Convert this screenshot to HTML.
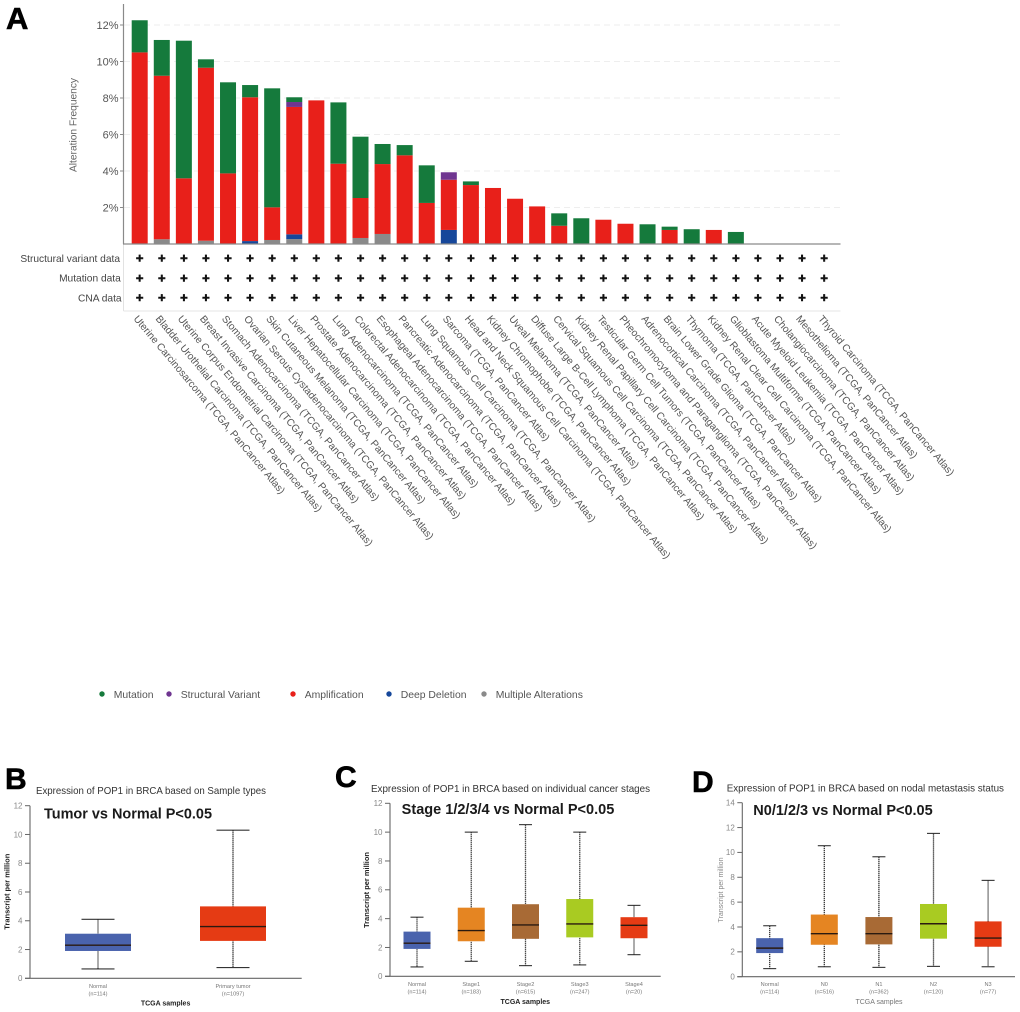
<!DOCTYPE html>
<html lang="en">
<head>
<meta charset="utf-8">
<title>POP1 alteration frequency and expression in BRCA</title>
<style>
html,body{margin:0;padding:0;background:#fff;width:1020px;height:1012px;overflow:hidden}
svg{display:block;font-family:"Liberation Sans",Arial,sans-serif;filter:blur(0.3px)}
</style>
</head>
<body>
<svg id="figure" width="1020" height="1012" viewBox="0 0 1020 1012" xmlns="http://www.w3.org/2000/svg"></svg>
<script>
// ---------- Panel A data ----------
const cancerTypes = ["Uterine Carcinosarcoma","Bladder Urothelial Carcinoma","Uterine Corpus Endometrial Carcinoma","Breast Invasive Carcinoma","Stomach Adenocarcinoma","Ovarian Serous Cystadenocarcinoma","Skin Cutaneous Melanoma","Liver Hepatocellular Carcinoma","Prostate Adenocarcinoma","Lung Adenocarcinoma","Colorectal Adenocarcinoma","Esophageal Adenocarcinoma","Pancreatic Adenocarcinoma","Lung Squamous Cell Carcinoma","Sarcoma","Head and Neck Squamous Cell Carcinoma","Kidney Chromophobe","Uveal Melanoma","Diffuse Large B-Cell Lymphoma","Cervical Squamous Cell Carcinoma","Kidney Renal Papillary Cell Carcinoma","Testicular Germ Cell Tumors","Pheochromocytoma and Paraganglioma","Adrenocortical Carcinoma","Brain Lower Grade Glioma","Thymoma","Kidney Renal Clear Cell Carcinoma","Glioblastoma Multiforme","Acute Myeloid Leukemia","Cholangiocarcinoma","Mesothelioma","Thyroid Carcinoma"];
const multipleAlterations = [0,0.26,0,0.18,0,0,0.22,0.27,0,0,0.33,0.55,0,0,0,0,0,0,0,0,0,0,0,0,0,0,0,0,0,0,0,0];
const deepDeletion = [0,0,0,0,0,0.16,0,0.26,0,0,0,0,0,0,0.77,0,0,0,0,0,0,0,0,0,0,0,0,0,0,0,0,0];
const amplification = [10.5,8.96,3.6,9.48,3.87,7.88,1.79,6.98,7.87,4.4,2.19,3.83,4.86,2.25,2.75,3.23,3.07,2.48,2.06,1.0,0,1.33,1.11,0,0.77,0,0.77,0,0,0,0,0];
const structuralVariant = [0,0,0,0,0,0,0,0.27,0,0,0,0,0,0,0.41,0,0,0,0,0,0,0,0,0,0,0,0,0,0,0,0,0];
const mutation = [1.76,1.96,7.54,0.46,4.99,0.67,6.52,0.26,0,3.36,3.36,1.1,0.56,2.06,0,0.2,0,0,0,0.68,1.41,0,0,1.08,0.18,0.81,0,0.66,0,0,0,0];
const freqTicks = [2,4,6,8,10,12];
const profileRows = ["Structural variant data","Mutation data","CNA data"];
const legendLabels = ["Mutation","Structural Variant","Amplification","Deep Deletion","Multiple Alterations"];

// ---------- Panel B data ----------
const bCategories = ["Normal","Primary tumor"];
const bCounts = ["(n=114)","(n=1097)"];
const bLow = [0.65,0.75];
const bQ1 = [1.9,2.6];
const bMedian = [2.3,3.6];
const bQ3 = [3.1,5.0];
const bHigh = [4.1,10.3];
const bTicks = [0,2,4,6,8,10,12];

// ---------- Panel C data ----------
const cCategories = ["Normal","Stage1","Stage2","Stage3","Stage4"];
const cCounts = ["(n=114)","(n=183)","(n=615)","(n=247)","(n=20)"];
const cLow = [0.65,1.04,0.74,0.79,1.5];
const cQ1 = [1.9,2.43,2.6,2.7,2.64];
const cMedian = [2.3,3.17,3.56,3.63,3.54];
const cQ3 = [3.1,4.76,5.0,5.36,4.1];
const cHigh = [4.1,10,10.52,10,4.92];
const cTicks = [0,2,4,6,8,10,12];

// ---------- Panel D data ----------
const dCategories = ["Normal","N0","N1","N2","N3"];
const dCounts = ["(n=114)","(n=516)","(n=362)","(n=120)","(n=77)"];
const dLow = [0.65,0.8,0.75,0.83,0.8];
const dQ1 = [1.9,2.57,2.6,3.06,2.41];
const dMedian = [2.3,3.46,3.46,4.26,3.11];
const dQ3 = [3.1,5.0,4.8,5.85,4.45];
const dHigh = [4.1,10.54,9.65,11.53,7.75];
const dTicks = [0,2,4,6,8,10,12,14];

const NS = "http://www.w3.org/2000/svg";
const root = document.getElementById("figure");
function mk(tag, attrs, parent, txt){
  const e = document.createElementNS(NS, tag);
  for (const k in attrs) e.setAttribute(k, attrs[k]);
  if (txt !== undefined) e.textContent = txt;
  (parent || root).appendChild(e);
  return e;
}
function group(name, parent){
  const g = mk("g", {}, parent);
  
  
  return g;
}
function slug(s){ return s.toLowerCase().replace(/[^a-z0-9]+/g, '-').replace(/^-|-$/g, ''); }

// ---------- Panel A ----------
const COL = {mut:"#157a3c", sv:"#6f3590", amp:"#e8201a", deep:"#16479a", multi:"#8a8a8a"};
const freqY = v => 244 - v * 18.25;
const bandX = i => 139.7 + i * 22.08;

const panelA = group('panel-a');
const letterA = mk("text", {x:6, y:29, "font-size":31, "font-weight":"bold", fill:"#000", stroke:"#000", "stroke-width":0.6}, panelA, "A");



const gridA = group('frequency-gridlines', panelA);
freqTicks.forEach(t => {
  const l = mk("line", {x1:124, x2:840, y1:freqY(t), y2:freqY(t), stroke:"#eeeeee", "stroke-width":1, "stroke-dasharray":"6 4"}, gridA);
  
  
});

const barsA = group('alteration-bars', panelA);
cancerTypes.forEach((name, i) => {
  const g = group('bar-' + slug(name), barsA);
  const stack = [[multipleAlterations[i],COL.multi],[deepDeletion[i],COL.deep],[amplification[i],COL.amp],[structuralVariant[i],COL.sv],[mutation[i],COL.mut]];
  let base = 0;
  stack.forEach(s => {
    if (s[0] > 0) {
      const r = mk("rect", {x:bandX(i) - 8, y:freqY(base + s[0]), width:16, height:s[0] * 18.25, fill:s[1]}, g);
      
      
    }
    base += s[0];
  });
});

const axisA = group('frequency-axis', panelA);
mk("line", {x1:123.5, x2:123.5, y1:4, y2:244, stroke:"#8a8a8a", "stroke-width":1.2}, axisA);
mk("line", {x1:123.5, x2:123.5, y1:244, y2:311, stroke:"#e2e2e2", "stroke-width":1}, axisA);
mk("line", {x1:123, x2:840.5, y1:244, y2:244, stroke:"#8a8a8a", "stroke-width":1.3}, axisA);
mk("line", {x1:123.5, x2:840.5, y1:311, y2:311, stroke:"#e6e6e6", "stroke-width":1}, axisA);
freqTicks.forEach(t => {
  mk("line", {x1:120, x2:123.5, y1:freqY(t), y2:freqY(t), stroke:"#8a8a8a", "stroke-width":1}, axisA);
  const lb = mk("text", {x:118.5, y:freqY(t) + 4, "text-anchor":"end", "font-size":11, fill:"#555"}, axisA, t + "%");
  
  
});
const titleA = mk("text", {transform:"translate(76.5,125) rotate(-90)", "text-anchor":"middle", "font-size":10.2, fill:"#666"}, axisA, "Alteration Frequency");



const rowsA = group('profile-rows', panelA);
profileRows.forEach((row, r) => {
  const yy = 258.3 + r * 19.7;
  const lb = mk("text", {x:120 + r * 0.8, y:yy + 3.6, "text-anchor":"end", "font-size":10.2, fill:"#444"}, rowsA, row);
  
  
  cancerTypes.forEach((c, i) => {
    const p = mk("text", {x:bandX(i), y:yy + 4.4, "text-anchor":"middle", "font-size":13, "font-weight":"bold", fill:"#111", stroke:"#111", "stroke-width":0.6}, rowsA, "+");
    
    
  });
});

const labelsA = group('cancer-type-labels', panelA);
cancerTypes.forEach((name, i) => {
  const x = bandX(i) - 6.6, y = 319;
  const t = mk("text", {transform:"translate(" + x + "," + y + ") rotate(50)", "font-size":10.2, fill:"#555"}, labelsA, name + " (TCGA, PanCancer Atlas)");
  
  
});

const legendA = group('alteration-legend', panelA);
const legendColors = [COL.mut, COL.sv, COL.amp, COL.deep, COL.multi];
const legendDots = [102, 169, 293, 389, 484];
legendLabels.forEach((name, i) => {
  const g = group('legend-entry', legendA);
  mk("circle", {cx:legendDots[i], cy:694, r:2.7, fill:legendColors[i]}, g);
  mk("text", {x:legendDots[i] + 11.7, y:697.8, "font-size":10.4, fill:"#555"}, g, name);
});

// ---------- Box plot panels ----------
const FILL_B = ["#4a63ad","#e53b14"];
const FILL_5 = ["#4a63ad","#e58522","#a86a35","#a9cb22","#e53b14"];

function drawBoxPanel(o){
  const g = group(o.name);
  const y = v => o.y0 - v * (o.y0 - o.yTop) / o.yMax;
  const x = i => o.x0 + i * o.step;

  const letter = mk("text", {x:o.letterX, y:o.letterY, "font-size":30, "font-weight":"bold", fill:"#000", stroke:"#000", "stroke-width":0.6}, g, o.letter);
  
  

  const title = mk("text", {x:o.titleX, y:o.titleY, "font-size":10.2, fill:"#333", textLength:o.titleW, lengthAdjust:"spacingAndGlyphs"}, g, o.title);
  
  

  const sub = mk("text", {x:o.subX, y:o.subY, "font-size":14.4, "font-weight":"bold", fill:"#1a1a1a", textLength:o.subW, lengthAdjust:"spacingAndGlyphs"}, g, o.sub);
  
  

  const ax = group('y-axis', g);
  mk("line", {x1:o.axisX, x2:o.axisX, y1:y(o.yMax), y2:o.y0, stroke:"#666", "stroke-width":1.1}, ax);
  mk("line", {x1:o.axisX - 5, x2:o.xEnd, y1:o.y0, y2:o.y0, stroke:"#666", "stroke-width":1.1}, ax);
  o.ticks.forEach(t => {
    mk("line", {x1:o.axisX - 5, x2:o.axisX, y1:y(t), y2:y(t), stroke:"#666", "stroke-width":1}, ax);
    const tl = mk("text", {x:o.axisX - 7.5, y:y(t) + 2.8, "text-anchor":"end", "font-size":8, fill:"#888"}, ax, String(t));
    
    
  });

  const yt = mk("text", {transform:"translate(" + o.yTitleX + "," + o.yTitleY + ") rotate(-90)", "text-anchor":"middle", "font-size":o.axisBold ? 7 : 7.2, "font-weight":o.axisBold ? "bold" : "normal", fill:o.axisBold ? "#222" : "#888", textLength:o.yTitleW, lengthAdjust:"spacingAndGlyphs"}, g, "Transcript per million");
  
  

  const xt = mk("text", {x:o.xTitleX, y:o.xTitleY, "text-anchor":"middle", "font-size":7, "font-weight":o.axisBold ? "bold" : "normal", fill:o.axisBold ? "#222" : "#777"}, g, "TCGA samples");
  
  

  o.categories.forEach((c, i) => {
    const b = group('box-' + slug(c), g);
    const cx = x(i);
    const w = mk("line", {x1:cx, x2:cx, y1:y(o.high[i]), y2:y(o.low[i]), stroke:"#333", "stroke-width":1.3, "stroke-dasharray":"1.3 0.7"}, b);
    
    
    [o.high[i], o.low[i]].forEach(v => {
      const cap = mk("line", {x1:cx - o.capW / 2, x2:cx + o.capW / 2, y1:y(v), y2:y(v), stroke:"#333", "stroke-width":1.1}, b);
      
      
    });
    const r = mk("rect", {x:cx - o.boxW / 2, y:y(o.q3[i]), width:o.boxW, height:y(o.q1[i]) - y(o.q3[i]), fill:o.fills[i]}, b);
    
    
    const m = mk("line", {x1:cx - o.boxW / 2, x2:cx + o.boxW / 2, y1:y(o.median[i]), y2:y(o.median[i]), stroke:"#2a1a10", "stroke-width":1.4}, b);
    
    
    const l1 = mk("text", {x:cx, y:o.catY, "text-anchor":"middle", "font-size":5.6, fill:"#777"}, b, c);
    
    
    const l2 = mk("text", {x:cx, y:o.catY + 7.3, "text-anchor":"middle", "font-size":5.6, fill:"#777"}, b, o.counts[i]);
    
    
  });
}

drawBoxPanel({name:'panel-b', letter:'B', letterX:5, letterY:789,
  title:"Expression of POP1 in BRCA based on Sample types", titleX:36, titleY:794, titleW:230,
  sub:"Tumor vs Normal P<0.05", subX:44, subY:818.7, subW:168,
  axisX:30, xEnd:301.7, y0:978.3, yTop:805.7, yMax:12, ticks:bTicks,
  x0:98, step:135, boxW:66, capW:33, fills:FILL_B, catY:988,
  categories:bCategories, counts:bCounts, low:bLow, q1:bQ1, median:bMedian, q3:bQ3, high:bHigh,
  axisBold:true, yTitleX:9.5, yTitleY:891.7, yTitleW:76, xTitleX:165.6, xTitleY:1005.5});

drawBoxPanel({name:'panel-c', letter:'C', letterX:335, letterY:787,
  title:"Expression of POP1 in BRCA based on individual cancer stages", titleX:371, titleY:792, titleW:279,
  sub:"Stage 1/2/3/4 vs Normal P<0.05", subX:401.7, subY:814, subW:212.6,
  axisX:390, xEnd:660.7, y0:976.3, yTop:803.3, yMax:12, ticks:cTicks,
  x0:417, step:54.25, boxW:27, capW:13, fills:FILL_5, catY:986,
  categories:cCategories, counts:cCounts, low:cLow, q1:cQ1, median:cMedian, q3:cQ3, high:cHigh,
  axisBold:true, yTitleX:369.2, yTitleY:890, yTitleW:76, xTitleX:525.3, xTitleY:1004.2});

drawBoxPanel({name:'panel-d', letter:'D', letterX:692, letterY:792,
  title:"Expression of POP1 in BRCA based on nodal metastasis status", titleX:726.7, titleY:791.7, titleW:277.3,
  sub:"N0/1/2/3 vs Normal P<0.05", subX:753.3, subY:815, subW:179.4,
  axisX:742.3, xEnd:1015, y0:976.7, yTop:802.7, yMax:14, ticks:dTicks,
  x0:769.7, step:54.6, boxW:27, capW:13, fills:FILL_5, catY:986,
  categories:dCategories, counts:dCounts, low:dLow, q1:dQ1, median:dMedian, q3:dQ3, high:dHigh,
  axisBold:false, yTitleX:723, yTitleY:890, yTitleW:65, xTitleX:879, xTitleY:1004.2});
</script>
</body>
</html>
